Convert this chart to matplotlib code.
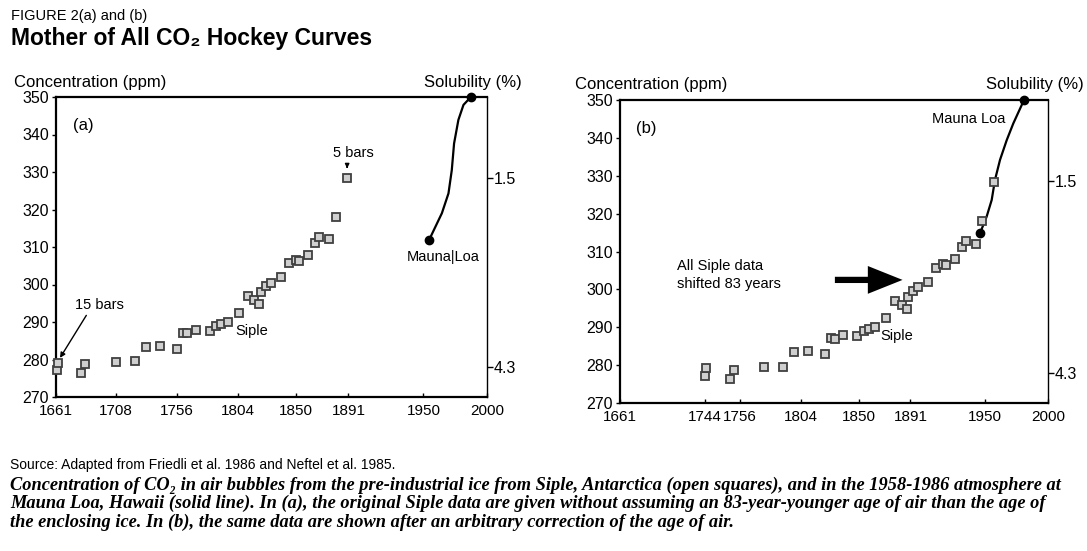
import numpy as np
import matplotlib
matplotlib.use('Agg')
import matplotlib.pyplot as plt

# Siple ice-core points, panel (a) (year, ppm)
siple_year = [1661.5, 1662.5, 1681, 1684, 1708, 1723, 1732, 1743, 1756, 1761,
              1764, 1771, 1782, 1787, 1791, 1796, 1805, 1812, 1817, 1821,
              1822, 1826, 1830, 1838, 1844, 1850, 1852, 1859, 1865, 1868,
              1876, 1881, 1890]
siple_ppm = [277.1, 279.2, 276.3, 278.8, 279.4, 279.6, 283.4, 283.6, 282.9, 287.1,
             287.0, 287.9, 287.7, 288.9, 289.5, 290.1, 292.5, 297.0, 295.9, 294.8,
             298.1, 299.5, 300.5, 302.0, 305.7, 306.6, 306.4, 307.9, 311.1, 312.7,
             312.1, 318.0, 328.4]
# shift of the Siple points as drawn in panel (b), in axis years
shift_b = 67

# Mauna Loa curve, panel (a)
mlo_year_a = [1954.5, 1964.5, 1969.7, 1972.3, 1974.1, 1977.5, 1981.5, 1987.3]
mlo_ppm_a = [311.9, 319.0, 324.3, 330.5, 337.6, 343.9, 347.9, 350.0]
# Mauna Loa curve, panel (b)
mlo_year_b = [1946.1, 1951.4, 1955.4, 1958.0, 1962.0, 1967.3, 1972.5, 1981.0]
mlo_ppm_b = [314.8, 319.2, 323.6, 328.9, 334.2, 339.4, 343.8, 350.0]

y_ticks = [270, 280, 290, 300, 310, 320, 330, 340, 350]
x_ticks_a = [1661, 1708, 1756, 1804, 1850, 1891, 1950, 2000]
x_labels_a = ['1661', '1708', '1756', '1804', '1850', '1891', '1950', '2000']
x_ticks_b = [1661, 1661 + shift_b, 1756, 1804, 1850, 1891, 1950, 2000]
x_labels_b = ['1661', '1744', '1756', '1804', '1850', '1891', '1950', '2000']
sol_ticks = [328.5, 278.0]
sol_labels = ['1.5', '4.3']

plt.rcParams['font.family'] = ['Liberation Sans', 'DejaVu Sans']

W, H = 1087, 551
fig = plt.figure(figsize=(W / 100, H / 100), dpi=100)

TICK_FS = 11.5
XTICK_FS = 11
NOTE_FS = 10.5


def px(x, y):
    return x / W, 1 - y / H


def panel(rect, xticks, xlabels, siple_x, mlo_x, mlo_y):
    ax = fig.add_axes(rect)
    ax.set_xlim(1661, 2000)
    ax.set_ylim(270, 350)
    ax.set_xticks(xticks)
    ax.set_xticklabels(xlabels)
    ax.set_yticks(y_ticks)
    ax.tick_params(axis='x', direction='in', length=3, width=1, labelsize=XTICK_FS, pad=5)
    ax.tick_params(axis='y', direction='out', length=3, width=1, labelsize=TICK_FS, pad=2)
    for s in ['left', 'top', 'bottom']:
        ax.spines[s].set_linewidth(1.6)
    ax.spines['right'].set_linewidth(1.0)
    ax.plot(siple_x, siple_ppm, 's', ms=5.5, mfc='#cfcfcf', mec='#404040', mew=1.3,
            clip_on=False, zorder=3)
    ax.plot(mlo_x, mlo_y, '-', color='black', lw=1.6, zorder=2)
    ax.plot([mlo_x[0], mlo_x[-1]], [mlo_y[0], mlo_y[-1]], 'o', color='black', ms=6,
            clip_on=False, zorder=4)
    tw = ax.twinx()
    tw.set_ylim(270, 350)
    tw.set_yticks(sol_ticks)
    tw.set_yticklabels(sol_labels)
    tw.tick_params(axis='y', direction='out', length=4, width=1, labelsize=TICK_FS, pad=1)
    for s in tw.spines.values():
        s.set_visible(False)
    return ax


ax1 = panel([56 / W, 1 - 397 / H, 431 / W, 300 / H], x_ticks_a, x_labels_a,
            siple_year, mlo_year_a, mlo_ppm_a)
siple_year_b = [y + shift_b for y in siple_year]
ax2 = panel([620 / W, 1 - 403 / H, 428 / W, 303 / H], x_ticks_b, x_labels_b,
            siple_year_b, mlo_year_b, mlo_ppm_b)

# annotations, panel (a)
ax1.text(1674, 342.5, '(a)', fontsize=12, va='center')
ax1.text(1676, 294.5, '15 bars', fontsize=NOTE_FS, va='center')
ax1.annotate('', xy=(1663, 279.8), xytext=(1686, 292.4),
             arrowprops=dict(arrowstyle='-|>,head_length=0.3,head_width=0.15',
                             lw=1, color='black'))
ax1.text(1815, 287.5, 'Siple', fontsize=NOTE_FS, ha='center', va='center')
ax1.text(1894.7, 335, '5 bars', fontsize=NOTE_FS, ha='center', va='center')
ax1.annotate('', xy=(1890, 330.2), xytext=(1890, 332.3),
             arrowprops=dict(arrowstyle='-|>,head_length=0.25,head_width=0.12',
                             lw=1, color='black'))
ax1.text(1965.5, 307.2, 'Mauna|Loa', fontsize=NOTE_FS, ha='center', va='center')

# annotations, panel (b)
ax2.text(1674, 342.5, '(b)', fontsize=12, va='center')
ax2.text(1706, 303.9, 'All Siple data\nshifted 83 years', fontsize=NOTE_FS,
         va='center', linespacing=1.35)
ax2.annotate('', xy=(1887, 302.5), xytext=(1829, 302.5),
             arrowprops=dict(arrowstyle='simple,head_length=1.0,head_width=0.8,tail_width=0.18',
                             mutation_scale=25, color='black', lw=0))
ax2.text(1880, 287.7, 'Siple', fontsize=NOTE_FS, ha='center', va='center')
ax2.text(1937.5, 344.9, 'Mauna Loa', fontsize=NOTE_FS, ha='center', va='center')

# axis titles
fig.text(*px(14, 82), 'Concentration (ppm)', fontsize=12, va='center')
fig.text(*px(424, 82), 'Solubility (%)', fontsize=12, va='center')
fig.text(*px(575, 85), 'Concentration (ppm)', fontsize=12, va='center')
fig.text(*px(986, 85), 'Solubility (%)', fontsize=12, va='center')

# header
fig.text(*px(11, 16), 'FIGURE 2(a) and (b)', fontsize=10.5, va='center')
fig.text(*px(11, 38), 'Mother of All CO\u2082 Hockey Curves', fontsize=16.5,
         fontweight='bold', va='center')

# footer
fig.text(*px(10, 465), 'Source: Adapted from Friedli et al. 1986 and Neftel et al. 1985.',
         fontsize=10, va='center')
caption = ['Concentration of CO\u2082 in air bubbles from the pre-industrial ice from Siple, '
           'Antarctica (open squares), and in the 1958-1986 atmosphere at',
           'Mauna Loa, Hawaii (solid line). In (a), the original Siple data are given '
           'without assuming an 83-year-younger age of air than the age of',
           'the enclosing ice. In (b), the same data are shown after an arbitrary '
           'correction of the age of air.']
for i, line in enumerate(caption):
    fig.text(*px(10, 485 + i * 18.5), line, fontsize=13.2, fontweight='bold',
             fontstyle='italic', family=['Liberation Serif', 'DejaVu Serif'],
             va='center')

fig.savefig('out.png', dpi=100)
